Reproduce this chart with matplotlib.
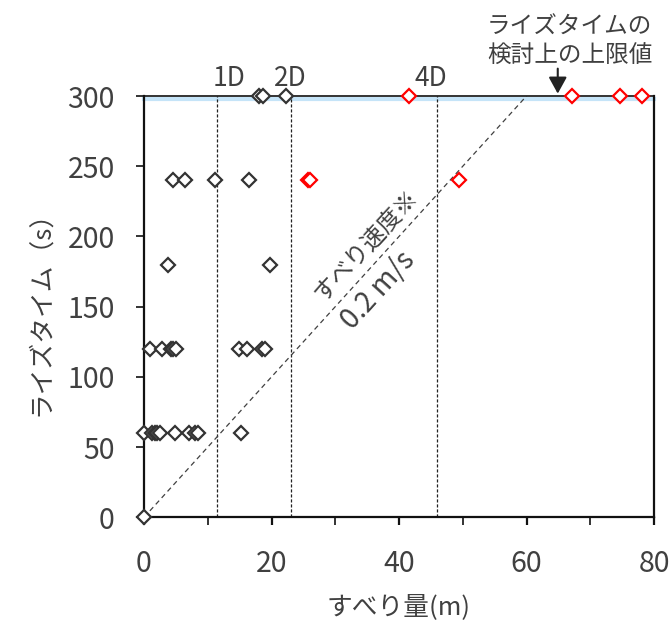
import matplotlib
matplotlib.use("Agg")
import matplotlib.pyplot as plt
import matplotlib.transforms as mtransforms
from matplotlib.ticker import MultipleLocator

plt.rcParams['font.family'] = ['Noto Sans CJK JP', 'DejaVu Sans']

# ---- data ----
black_slip = [0.0,
              0.05, 1.3, 1.8, 2.1, 2.5, 4.8, 7.0, 8.0, 8.4, 15.2,
              0.9, 2.9, 4.2, 4.6, 5.0, 14.9, 16.2, 18.5, 19.0,
              3.7, 19.8,
              4.5, 6.4, 11.2, 16.4,
              18.0, 18.6, 22.3]
black_rise = [0,
              60, 60, 60, 60, 60, 60, 60, 60, 60, 60,
              120, 120, 120, 120, 120, 120, 120, 120, 120,
              180, 180,
              240, 240, 240, 240,
              300, 300, 300]
red_slip = [25.8, 26.1, 49.4, 41.5, 67.1, 74.7, 78.1]
red_rise = [240, 240, 240, 300, 300, 300, 300]

D = 11.5
d_multiples = [1, 2, 4]
d_labels = ["1D", "2D", "4D"]
d_label_x = [13.3, 22.9, 45.0]
slip_velocity = 0.2  # m/s
rise_limit = 300
arrow_x = 64.9

x_ticks = [0, 20, 40, 60, 80]
y_ticks = [0, 50, 100, 150, 200, 250, 300]

TXT = '#404040'

fig = plt.figure(figsize=(6.71, 6.26), dpi=100)
ax = fig.add_axes([0.2146, 0.1736, 0.7601, 0.6730])
ax.set_xlim(0, 80)
ax.set_ylim(0, 300)

# upper limit line (light blue, just under the top frame)
blue_tr = mtransforms.offset_copy(ax.transData, fig=fig, x=0, y=-2.5, units='dots')
ax.plot([0, 80], [rise_limit, rise_limit], color='#C5E4F8', lw=3.0,
        transform=blue_tr, zorder=1, clip_on=False)

# D lines
for m, lab, lx in zip(d_multiples, d_labels, d_label_x):
    ax.plot([m * D, m * D], [0, rise_limit], color='#222222', lw=0.9,
            ls=(0, (2.5, 1.5)), zorder=2)
    ax.text(lx, 307, lab, ha='center', va='baseline', fontsize=19, color=TXT)

# slip velocity line
ys = [0, rise_limit]
xs = [slip_velocity * y for y in ys]
ax.plot(xs, ys, color='#404040', lw=0.9, ls=(0, (4, 3)), zorder=2)
ax.text(35.06, 193.4, "すべり速度※", rotation=47.5, rotation_mode='anchor',
        ha='center', va='center', fontsize=17, color=TXT)
ax.text(36.75, 161.9, "0.2 m/s", rotation=47.5, rotation_mode='anchor',
        ha='center', va='center', fontsize=20, color=TXT)

# markers
ax.plot(black_slip, black_rise, ls='none', marker='D', markersize=7.2,
        markerfacecolor='white', markeredgecolor='#333333', markeredgewidth=1.6,
        clip_on=False, zorder=5)
ax.plot(red_slip, red_rise, ls='none', marker='D', markersize=7.2,
        markerfacecolor='white', markeredgecolor='#FF0000', markeredgewidth=1.6,
        clip_on=False, zorder=5)

# annotation
ax.text(66.75, 338.6, "ライズタイムの\n検討上の上限値", ha='center', va='center',
        fontsize=17, color=TXT, linespacing=1.35, clip_on=False)
ax.annotate("", xy=(arrow_x, 301.7), xytext=(arrow_x, 319.5), textcoords='data',
            arrowprops=dict(arrowstyle='-|>,head_width=0.55,head_length=1.0',
                            mutation_scale=10, color='#222222', lw=1.5,
                            shrinkA=0, shrinkB=0),
            annotation_clip=False)

# axes styling
for side in ['left', 'right', 'top', 'bottom']:
    ax.spines[side].set_color('#111111')
    ax.spines[side].set_linewidth(1.6)
ax.spines['top'].set_linewidth(1.2)

ax.set_xticks(x_ticks)
ax.set_yticks(y_ticks)
ax.xaxis.set_minor_locator(MultipleLocator(10))
ax.tick_params(axis='both', which='both', direction='out', color='#111111',
               labelcolor=TXT, labelsize=20.5)
ax.tick_params(axis='x', which='major', length=6, width=1.6, pad=17)
ax.tick_params(axis='x', which='minor', length=6, width=1.2)
ax.tick_params(axis='y', which='major', length=6, width=1.2, pad=15)
ax.tick_params(top=False, right=False)

ax.set_xlabel("すべり量(m)", fontsize=18.5, color=TXT, labelpad=11)
ax.set_ylabel("ライズタイム（s）", fontsize=18.5, color=TXT, labelpad=9.5)

fig.savefig("out.png", dpi=100)
